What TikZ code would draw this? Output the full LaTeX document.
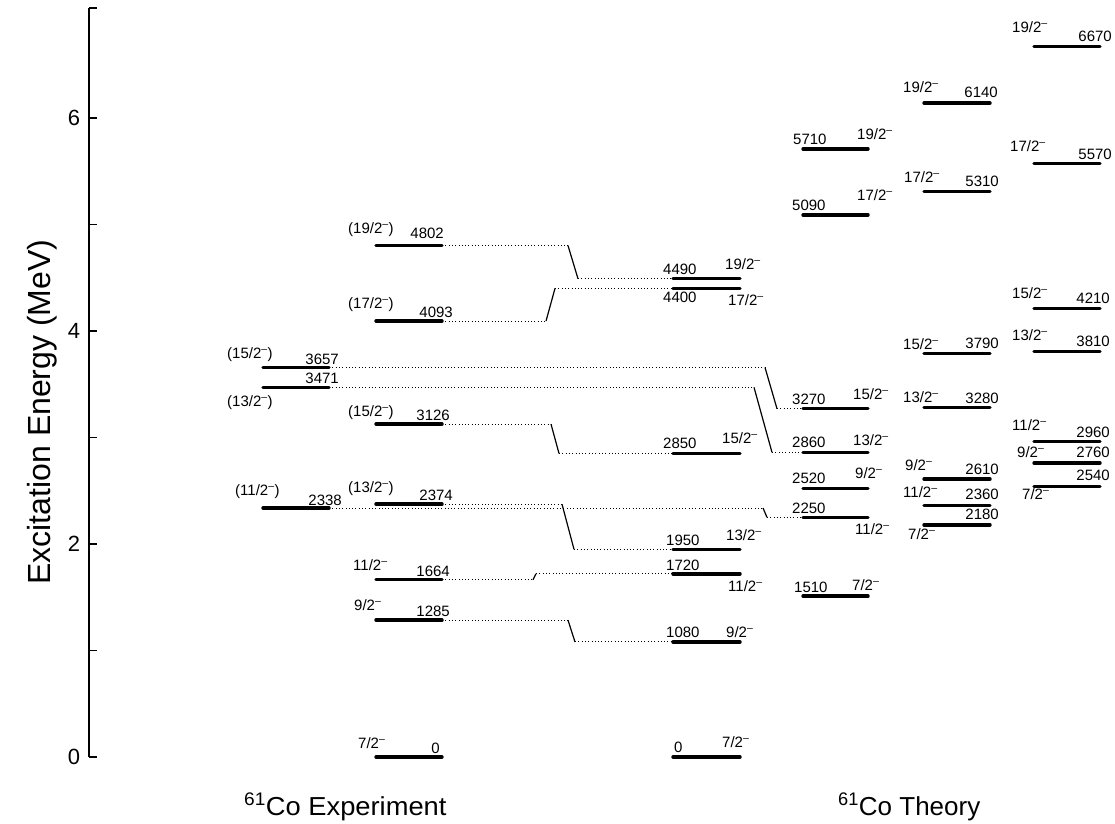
\documentclass[tikz,border=0pt]{standalone}
\usepackage{fontspec}
\setmainfont{Liberation Sans}
\newcommand\jp[1]{#1/2\textsuperscript{\textendash}}
\begin{document}
\begin{tikzpicture}[x=1pt,y=-1pt,
  lvl/.style={line width=3.4pt,line cap=round},
  dotln/.style={line width=1pt,dash pattern=on 1pt off 2.3pt},
  slant/.style={line width=1.2pt},
  axisln/.style={line width=1.4pt},
  lab/.style={inner sep=0pt,font=\fontsize{15}{17}\selectfont},
  ticklab/.style={inner sep=0pt,font=\fontsize{22}{24}\selectfont},
  title/.style={inner sep=0pt,font=\fontsize{26}{29}\selectfont},
  ylab/.style={inner sep=0pt,font=\fontsize{32}{36}\selectfont,rotate=90}]
\useasboundingbox (0,0) rectangle (1115,823);
\newcommand\lev[4]{%
  \pgfmathsetmacro\yy{757-0.1065*#4}%
  \coordinate (#1L) at (#2,\yy);
  \coordinate (#1R) at (#3,\yy);
  \draw[lvl] (#1L) -- (#1R);}
\newcommand\lab[5]{\node[lab,anchor=#2] (#1) at (#3,#4) {#5};}
\newcommand\lnk[4]{%
  \coordinate (#1#2a) at (#3,0 |- #1R);
  \coordinate (#1#2b) at (#4,0 |- #2L);
  \draw[dotln] (#1R) -- (#1#2a);
  \draw[slant] (#1#2a) -- (#1#2b);
  \draw[dotln] (#1#2b) -- (#2L);}
% axis
\draw[axisln] (89,8) -- (89,757);
\foreach \e in {0,...,6} {\draw[axisln] (89,{757-106.5*\e}) -- (97,{757-106.5*\e});}
\draw[axisln] (89,8) -- (97,8);
\node[ticklab] (t0) at (74,757) {0};
\node[ticklab] (t2) at (74,544) {2};
\node[ticklab] (t4) at (74,331) {4};
\node[ticklab] (t6) at (74,118) {6};
\node[ylab,anchor=base] (yl) at (50,412) {Excitation Energy (MeV)};
\node[title,anchor=base west] (tex) at (244,815) {\scalebox{1.05}[1]{\textsuperscript{61}Co Experiment}};
\node[title,anchor=base west] (tth) at (838,815) {\textsuperscript{61}Co Theory};
% experiment column A
\lev{A3657}{263}{329}{3657}
\lev{A3471}{263}{329}{3471}
\lev{A2338}{263}{329}{2338}
% experiment column B
\lev{B4802}{376}{442}{4802}
\lev{B4093}{376}{442}{4093}
\lev{B3126}{376}{442}{3126}
\lev{B2374}{376}{442}{2374}
\lev{B1664}{376}{442}{1664}
\lev{B1285}{376}{442}{1285}
\lev{B0}{376}{442}{0}
% theory column 1
\lev{P4490}{673}{740}{4490}
\lev{P4400}{673}{740}{4400}
\lev{P2850}{673}{740}{2850}
\lev{P1950}{673}{740}{1950}
\lev{P1720}{673}{740}{1720}
\lev{P1080}{673}{740}{1080}
\lev{P0}{673}{740}{0}
% theory column 2
\lev{Q5710}{803}{868}{5710}
\lev{Q5090}{803}{868}{5090}
\lev{Q3270}{803}{868}{3270}
\lev{Q2860}{803}{868}{2860}
\lev{Q2520}{803}{868}{2520}
\lev{Q2250}{803}{868}{2250}
\lev{Q1510}{803}{868}{1510}
% theory column 3
\lev{R6140}{924}{990}{6140}
\lev{R5310}{924}{990}{5310}
\lev{R3790}{924}{990}{3790}
\lev{R3280}{924}{990}{3280}
\lev{R2610}{924}{990}{2610}
\lev{R2360}{924}{990}{2360}
\lev{R2180}{924}{990}{2180}
% theory column 4
\lev{S6670}{1034}{1100}{6670}
\lev{S5570}{1034}{1100}{5570}
\lev{S4210}{1034}{1100}{4210}
\lev{S3810}{1034}{1100}{3810}
\lev{S2960}{1034}{1100}{2960}
\lev{S2760}{1034}{1100}{2760}
\lev{S2540}{1034}{1100}{2540}
% connectors
\lnk{B4802}{P4490}{568}{578}
\lnk{B4093}{P4400}{546}{555}
\lnk{B3126}{P2850}{551}{559}
\lnk{B2374}{P1950}{562}{574}
\lnk{B1664}{P1720}{533}{536}
\lnk{B1285}{P1080}{568}{575}
\lnk{A3657}{Q3270}{765}{777}
\lnk{A3471}{Q2860}{754}{772}
\lnk{A2338}{Q2250}{763}{767}
% labels experiment A
\lab{sA3657}{base west}{227}{358}{(\jp{15})}
\lab{eA3657}{base east}{339}{364}{3657}
\lab{eA3471}{base east}{339}{383}{3471}
\lab{sA3471}{base west}{227}{406}{(\jp{13})}
\lab{sA2338}{base west}{235}{495}{(\jp{11})}
\lab{eA2338}{base east}{342}{505}{2338}
% labels experiment B
\lab{sB4802}{base west}{348}{233}{(\jp{19})}
\lab{eB4802}{base east}{444}{238}{4802}
\lab{sB4093}{base west}{348}{308}{(\jp{17})}
\lab{eB4093}{base east}{453}{317}{4093}
\lab{sB3126}{base west}{348}{416}{(\jp{15})}
\lab{eB3126}{base east}{450}{420}{3126}
\lab{sB2374}{base west}{348}{492}{(\jp{13})}
\lab{eB2374}{base east}{453}{500}{2374}
\lab{sB1664}{base west}{353}{570}{\jp{11}}
\lab{eB1664}{base east}{450}{576}{1664}
\lab{sB1285}{base west}{354}{610}{\jp{9}}
\lab{eB1285}{base east}{450}{616}{1285}
\lab{sB0}{base west}{358}{748}{\jp{7}}
\lab{eB0}{base east}{440}{753}{0}
% labels theory 1
\lab{eP4490}{base west}{663}{274}{4490}
\lab{sP4490}{base west}{725}{269}{\jp{19}}
\lab{eP4400}{base west}{663}{302}{4400}
\lab{sP4400}{base west}{728}{305}{\jp{17}}
\lab{eP2850}{base west}{663}{448}{2850}
\lab{sP2850}{base west}{722}{443}{\jp{15}}
\lab{eP1950}{base west}{666}{545}{1950}
\lab{sP1950}{base west}{726}{540}{\jp{13}}
\lab{eP1720}{base west}{666}{570}{1720}
\lab{sP1720}{base west}{728}{591}{\jp{11}}
\lab{eP1080}{base west}{666}{637}{1080}
\lab{sP1080}{base west}{726}{637}{\jp{9}}
\lab{eP0}{base west}{674}{752}{0}
\lab{sP0}{base west}{722}{747}{\jp{7}}
% labels theory 2
\lab{eQ5710}{base west}{793}{144}{5710}
\lab{sQ5710}{base west}{857}{139}{\jp{19}}
\lab{eQ5090}{base west}{792}{210}{5090}
\lab{sQ5090}{base west}{857}{200}{\jp{17}}
\lab{eQ3270}{base west}{792}{404}{3270}
\lab{sQ3270}{base west}{853}{399}{\jp{15}}
\lab{eQ2860}{base west}{792}{447}{2860}
\lab{sQ2860}{base west}{853}{445}{\jp{13}}
\lab{eQ2520}{base west}{792}{483}{2520}
\lab{sQ2520}{base west}{855}{478}{\jp{9}}
\lab{eQ2250}{base west}{792}{513}{2250}
\lab{sQ2250}{base west}{855}{534}{\jp{11}}
\lab{eQ1510}{base west}{794}{592}{1510}
\lab{sQ1510}{base west}{852}{590}{\jp{7}}
% labels theory 3
\lab{sR6140}{base west}{903}{92}{\jp{19}}
\lab{eR6140}{base east}{998}{97}{6140}
\lab{sR5310}{base west}{904}{182}{\jp{17}}
\lab{eR5310}{base east}{999}{186}{5310}
\lab{sR3790}{base west}{903}{349}{\jp{15}}
\lab{eR3790}{base east}{999}{348}{3790}
\lab{sR3280}{base west}{903}{402}{\jp{13}}
\lab{eR3280}{base east}{999}{403}{3280}
\lab{sR2610}{base west}{905}{470}{\jp{9}}
\lab{eR2610}{base east}{999}{474}{2610}
\lab{sR2360}{base west}{903}{497}{\jp{11}}
\lab{eR2360}{base east}{999}{499}{2360}
\lab{eR2180}{base east}{999}{519}{2180}
\lab{sR2180}{base west}{908}{539}{\jp{7}}
% labels theory 4
\lab{sS6670}{base west}{1012}{32}{\jp{19}}
\lab{eS6670}{base east}{1112}{41}{6670}
\lab{sS5570}{base west}{1010}{151}{\jp{17}}
\lab{eS5570}{base east}{1112}{159}{5570}
\lab{sS4210}{base west}{1012}{298}{\jp{15}}
\lab{eS4210}{base east}{1110}{303}{4210}
\lab{sS3810}{base west}{1012}{340}{\jp{13}}
\lab{eS3810}{base east}{1110}{346}{3810}
\lab{sS2960}{base west}{1012}{430}{\jp{11}}
\lab{eS2960}{base east}{1110}{437}{2960}
\lab{sS2760}{base west}{1017}{457}{\jp{9}}
\lab{eS2760}{base east}{1110}{457}{2760}
\lab{eS2540}{base east}{1110}{480}{2540}
\lab{sS2540}{base west}{1022}{499}{\jp{7}}
\end{tikzpicture}
\end{document}
